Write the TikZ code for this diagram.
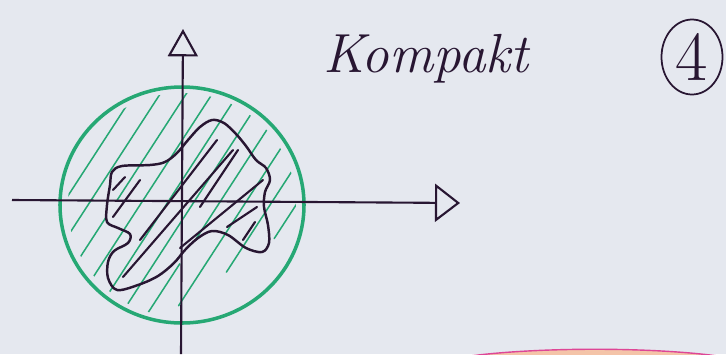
\documentclass[tikz,border=0pt]{standalone}
\usepackage{tikz}
\usetikzlibrary{arrows.meta,shapes.geometric}
\definecolor{paper}{RGB}{229,232,239}
\definecolor{ink}{RGB}{40,22,50}
\definecolor{felt}{RGB}{38,168,116}
\definecolor{rose}{RGB}{222,70,150}
\definecolor{peach}{RGB}{244,196,168}
\begin{document}
\begin{tikzpicture}[x=0.03cm,y=-0.03cm,
  axisline/.style={ink, line width=1.8pt},
  blobline/.style={ink, line width=2.1pt, line join=round},
  hatchgreen/.style={felt, line width=1.3pt, line cap=round},
  hatchdark/.style={ink, line width=1.8pt, line cap=round},
  rimgreen/.style={felt, line width=3pt}]

\useasboundingbox (0,0) rectangle (726,354);
\fill[paper] (0,0) rectangle (726,354);

% pink edge at the bottom
\begin{scope}
\clip (0,0) rectangle (726,354);
\fill[peach] (470,356) .. controls (540,347) and (650,347) .. (718,356) -- cycle;
\draw[rose, line width=1.2pt] (470,356) .. controls (540,347) and (650,347) .. (718,356);
\end{scope}

% green disc with hatching
\begin{scope}
\clip (182,205) ellipse [x radius=114, y radius=112];
\foreach \xo/\ta/\tb in {62/-60/130, 88/-80/140, 114/-110/-15, 114/5/140,
    140/-130/140, 166/-140/140, 192/-140/125, 218/-140/-70, 218/-40/110,
    244/-120/90, 270/-80/50, 296/-40/20}
  \draw[hatchgreen] ({\xo+0.545*(\ta)},{205-0.839*(\ta)}) -- ({\xo+0.545*(\tb)},{205-0.839*(\tb)});
\end{scope}
\draw[rimgreen] (182,205) ellipse [x radius=122, y radius=118];

% the compact set
\draw[blobline] plot[smooth cycle, tension=0.55] coordinates {
  (110,185) (112,172) (122,166) (150,165) (165,162) (177,153) (188,140)
  (200,127) (212,120) (224,123) (236,134) (246,146) (256,160) (266,168)
  (270,180) (265,192) (264,207) (268,225) (269,243) (262,252) (246,248)
  (228,235) (212,231) (198,238) (185,250) (174,263) (158,276) (138,285)
  (117,290) (108,278) (108,262) (114,251) (128,243) (130,234) (118,228)
  (107,222) (107,205)};
\draw[hatchdark] (113,217) -- (140,180);
\draw[hatchdark] (140,240) -- (217,140);
\draw[hatchdark] (123,277) -- (233,150);
\draw[hatchdark] (180,248) -- (263,180);
\draw[hatchdark] (227,227) -- (257,207);
\draw[hatchdark] (243,240) -- (255,222);
\draw[hatchdark] (113,190) -- (125,177);
\draw[hatchdark] (200,207) -- (238,150);

% axes
\coordinate (xleft) at (12,200);
\coordinate (xright) at (460,203);
\coordinate (ybottom) at (181,354);
\coordinate (ytop) at (183,29);
\draw[axisline, -{Triangle[open, length=0.75cm, width=1.14cm, line width=1.8pt]}] (xleft) -- (xright);
\draw[axisline, -{Triangle[open, length=0.82cm, width=0.9cm, line width=1.8pt]}] (ybottom) -- (ytop);

% labels
\node[font=\fontsize{47}{47}\selectfont\itshape, text=ink, anchor=base west, inner sep=0] (title) at (323,72) {Kompakt};
\node[ellipse, draw=ink, line width=1.5pt, inner sep=0, minimum width=1.83cm, minimum height=2.25cm,
  font=\fontsize{60}{60}\selectfont, text=ink] (number) at (692,57) {4};

\end{tikzpicture}
\end{document}
